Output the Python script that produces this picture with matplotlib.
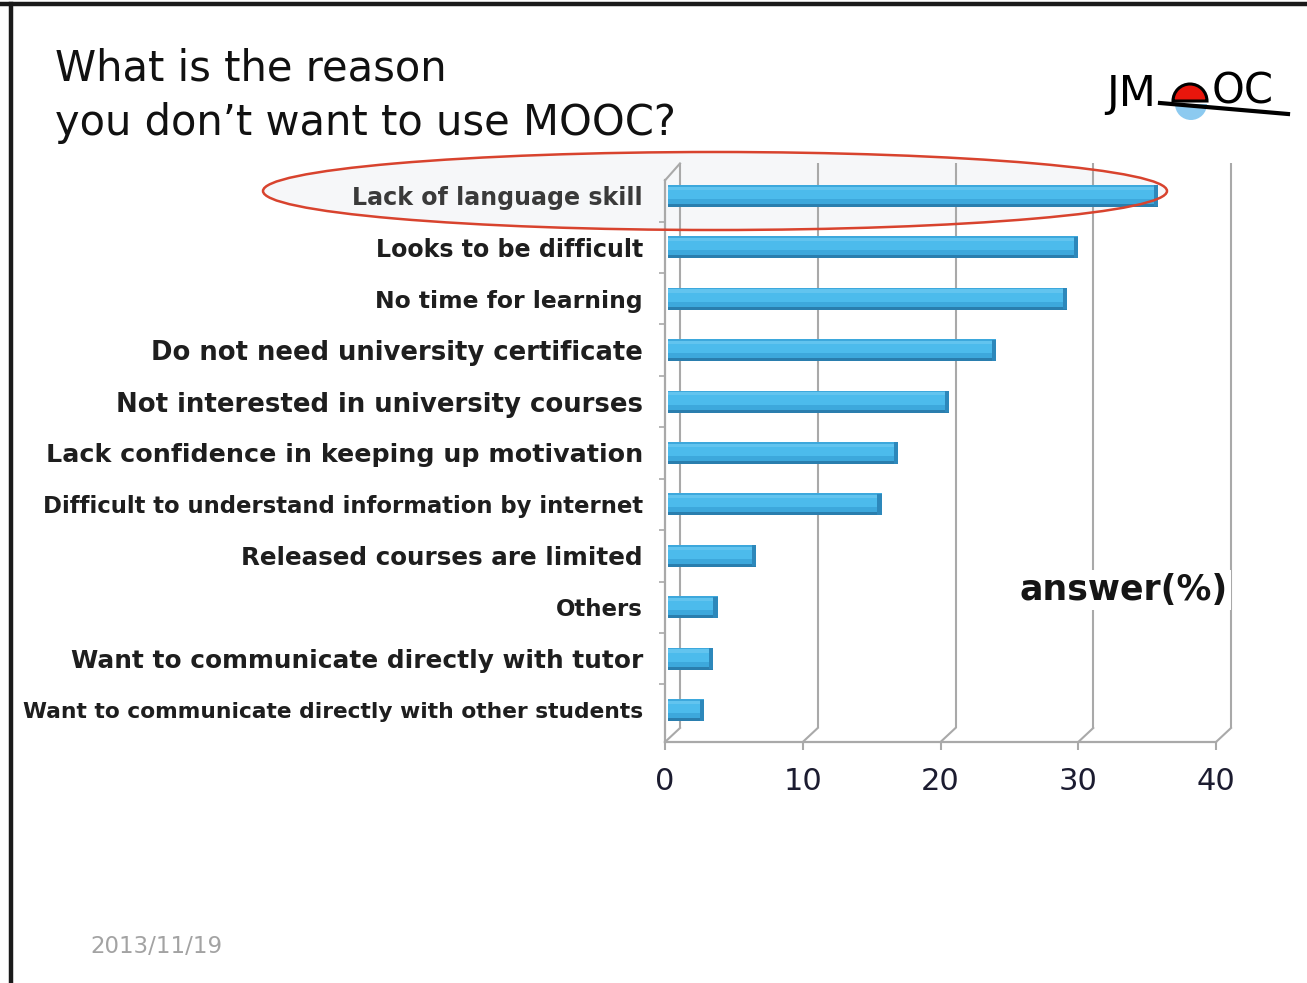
import matplotlib
matplotlib.use("Agg")
import matplotlib.pyplot as plt
from matplotlib.patches import Ellipse, Wedge
from matplotlib.lines import Line2D
from matplotlib.transforms import IdentityTransform, offset_copy, ScaledTranslation

# ---------------- data ----------------
categories = [
    "Lack of language skill",
    "Looks to be difficult",
    "No time for learning",
    "Do not need university certificate",
    "Not interested in university courses",
    "Lack confidence in keeping up motivation",
    "Difficult to understand information by internet",
    "Released courses are limited",
    "Others",
    "Want to communicate directly with tutor",
    "Want to communicate directly with other students",
]
values = [35.6, 29.8, 29.0, 23.8, 20.4, 16.7, 15.5, 6.4, 3.6, 3.3, 2.6]
xticks = [0, 10, 20, 30, 40]
xtick_labels = ["0", "10", "20", "30", "40"]
title_lines = ["What is the reason", "you don\u2019t want to use MOOC?"]
axis_note = "answer(%)"
date_text = "2013/11/19"

# ---------------- style ----------------
label_sizes = [17.1, 17.1, 16.9, 18.6, 18.7, 18.3, 16.4, 17.7, 16.5, 17.8, 15.7]
W, H = 1307, 983
DPI = 100
grid_col = "#a9a9a9"

fig = plt.figure(figsize=(W / DPI, H / DPI), dpi=DPI)
fig.patch.set_facecolor("white")


def fx(x):
    return x / W


def fy(y):
    return 1 - y / H


def disp(x, y):
    return (x, H - y)


# slide border (top and left)
fig.add_artist(Line2D([fx(0), fx(W)], [fy(4), fy(4)], color="#1a1a1a", lw=3.2,
                      transform=fig.transFigure))
fig.add_artist(Line2D([fx(11), fx(11)], [fy(4), fy(H)], color="#1a1a1a", lw=3.2,
                      transform=fig.transFigure))

# highlight ellipse fill (behind)
ell_fill = Ellipse((fx(715), fy(191)), 904 / W, 78 / H, transform=fig.transFigure,
                   facecolor="#f6f7f9", edgecolor="none", zorder=-5)
fig.add_artist(ell_fill)

# ---------------- axes ----------------
ax_left, ax_right, ax_bottom, ax_top = 665, 1216, 742, 165
ax = fig.add_axes([fx(ax_left), fy(ax_bottom), (ax_right - ax_left) / W,
                   (ax_bottom - ax_top) / H])
ax.set_facecolor("none")
n = len(categories)
ypos = list(range(n))
ax.set_xlim(0, 40)
ax.set_ylim(10.62, -0.60)

# bars (slightly behind the front plane), cylinder-like shading
bar_tr = ax.transData + ScaledTranslation(3 / DPI, 0, fig.dpi_scale_trans)
ax.barh(ypos, values, height=0.43, color="#3da8dc", transform=bar_tr, zorder=3)
ax.barh([p - 0.06 for p in ypos], values, height=0.24, color="#4cbbec",
        transform=bar_tr, zorder=4)
ax.barh([p - 0.15 for p in ypos], values, height=0.06, color="#62c4ef",
        transform=bar_tr, zorder=4)
ax.barh([p + 0.185 for p in ypos], values, height=0.06, color="#2a7eae",
        transform=bar_tr, zorder=4)
ax.barh(ypos, [0.3] * n, left=[v - 0.3 for v in values], height=0.41,
        color="#2d88bb", transform=bar_tr, zorder=5)

# y labels
ax.set_yticks(ypos)
ax.set_yticklabels(categories)
for i, t in enumerate(ax.get_yticklabels()):
    t.set_fontsize(label_sizes[i])
    t.set_fontweight("bold")
    t.set_color("#3a3a3a" if i == 0 else "#1e1e1e")
ax.tick_params(axis="y", length=0, pad=16)
ax.set_yticks([p + 0.5 for p in ypos[:-1]], minor=True)
ax.tick_params(axis="y", which="minor", length=4, color=grid_col, width=1.2)

# x ticks
ax.set_xticks(xticks)
ax.set_xticklabels(xtick_labels, fontsize=22, color="#1c1c30")
ax.tick_params(axis="x", length=6, color=grid_col, width=1.5, pad=12)

for s in ["top", "right"]:
    ax.spines[s].set_visible(False)
ax.spines["bottom"].set_color(grid_col)
ax.spines["bottom"].set_linewidth(1.6)
ax.spines["left"].set_color(grid_col)
ax.spines["left"].set_linewidth(1.6)
ax.spines["left"].set_bounds(10.62, -0.30)

# back wall grid lines (offset in depth)
dx, dy = 15, 14
back_tr = offset_copy(ax.get_xaxis_transform(), fig=fig, x=dx, y=dy, units="dots")
ax.vlines(xticks, 0, 0.979, colors=grid_col, lw=1.5, transform=back_tr, zorder=1,
          clip_on=False)

# floor diagonals and left wall top diagonal
fig.canvas.draw()
for t in xticks:
    x0, y0 = ax.transData.transform((t, 10.62))
    fig.add_artist(Line2D([x0, x0 + dx], [y0, y0 + dy], color=grid_col, lw=1.5,
                          transform=IdentityTransform()))
x0, y0 = ax.transData.transform((0, -0.30))
fig.add_artist(Line2D([x0, x0 + dx], [y0, y0 + dy + 3], color=grid_col, lw=1.5,
                      transform=IdentityTransform()))

# axis note
fig.text(fx(1124), fy(590), axis_note, fontsize=25, fontweight="bold",
         ha="center", va="center", color="#151515",
         bbox=dict(facecolor="white", edgecolor="none", pad=2))

# highlight ellipse outline (above)
ell_edge = Ellipse((fx(715), fy(191)), 904 / W, 78 / H, transform=fig.transFigure,
                   facecolor="none", edgecolor="#d8432e", lw=1.8, zorder=10)
fig.add_artist(ell_edge)

# title
fig.text(fx(55), fy(80), title_lines[0], fontsize=30, color="#111111",
         ha="left", va="baseline")
fig.text(fx(55), fy(135), title_lines[1], fontsize=30, color="#111111",
         ha="left", va="baseline")

# date
fig.text(fx(90), fy(953), date_text, fontsize=16.5, color="#a3a3a3",
         ha="left", va="baseline")

# logo (JMOOC)
fig.text(fx(1106), fy(106), "JM", fontsize=31, color="black", ha="left",
         va="baseline")
fig.add_artist(Wedge(disp(1191, 104), 16, 180, 360, facecolor="#8ccaf0",
                     edgecolor="none", transform=IdentityTransform()))
fig.add_artist(Wedge(disp(1190, 101), 17, 0, 180, facecolor="#e8160c",
                     edgecolor="black", lw=2.2, transform=IdentityTransform()))
fig.text(fx(1212), fy(103), "OC", fontsize=30, color="black", ha="left",
         va="baseline")
fig.add_artist(Line2D([1160, 1288], [H - 103, H - 114], color="black", lw=3,
                      transform=IdentityTransform()))

fig.savefig("out.png", dpi=DPI)
